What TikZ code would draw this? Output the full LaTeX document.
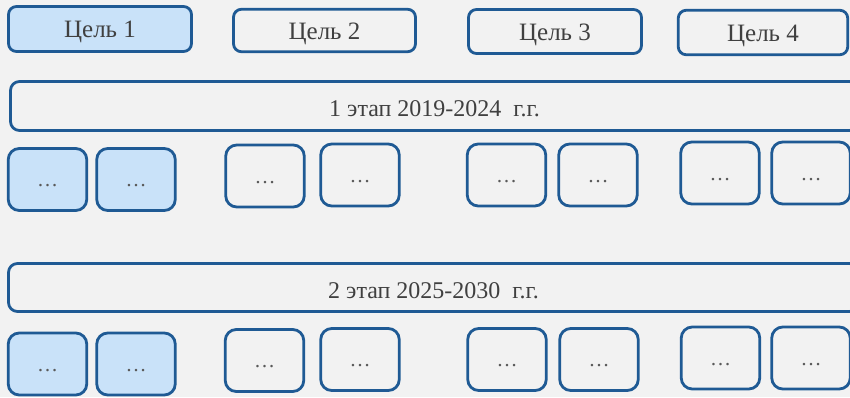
\documentclass[tikz,border=0pt]{standalone}
\usepackage{fontspec}
\setmainfont{Liberation Serif}
\usepackage{xcolor}

\definecolor{framecol}{HTML}{1F5A94}
\definecolor{paleblue}{HTML}{C9E2F9}
\definecolor{pagegray}{HTML}{F2F2F2}
\definecolor{textgray}{HTML}{404040}
\definecolor{dotgray}{HTML}{595959}

\tikzset{
	goalbox/.style={draw=framecol, line width=2.8pt, rounded corners=8pt, text=textgray, font=\fontsize{25}{25}\selectfont, text height=17pt, text depth=0pt},
	stagebar/.style={draw=framecol, line width=2.8pt, rounded corners=9pt, text=textgray, font=\fontsize{24}{24}\selectfont, text height=21pt, text depth=0pt, minimum width=848pt},
	taskbox/.style={draw=framecol, line width=2.8pt, rounded corners=11pt, text=dotgray, font=\fontsize{21}{21}\selectfont, text height=14pt, text depth=0pt, minimum width=78.5pt, minimum height=62pt}
}

\begin{document}
\begin{tikzpicture}[x=1pt, y=-1pt]
	\fill[pagegray] (0,0) rectangle (850,397);
	\useasboundingbox (0,0) rectangle (850,397);
	\clip (0,0) rectangle (850,397);

	\node[goalbox, fill=paleblue, minimum width=183pt, minimum height=45pt] (goal1) at (100,29) {Цель 1};
	\node[goalbox, minimum width=182pt, minimum height=42.5pt] (goal2) at (324.5,30.5) {Цель 2};
	\node[goalbox, minimum width=173pt, minimum height=44pt] (goal3) at (555,31.5) {Цель 3};
	\node[goalbox, minimum width=169.5pt, minimum height=44.5pt] (goal4) at (763,32.5) {Цель 4};

	\node[stagebar, minimum height=49pt] (stage1) at (434.5,106) {1 этап 2019-2024\ \ г.г.};
	\node[stagebar, minimum width=850pt, minimum height=48pt] (stage2) at (433.5,287.5) {2 этап 2025-2030\ \ г.г.};

	\node[taskbox, fill=paleblue] (task11) at (47.5,179.5) {\dots};
	\node[taskbox, fill=paleblue] (task12) at (136,179.5) {\dots};
	\node[taskbox] (task13) at (265,176) {\dots};
	\node[taskbox] (task14) at (360,175) {\dots};
	\node[taskbox] (task15) at (506.5,175) {\dots};
	\node[taskbox] (task16) at (598,175) {\dots};
	\node[taskbox] (task17) at (720,173) {\dots};
	\node[taskbox] (task18) at (811,173) {\dots};

	\node[taskbox, fill=paleblue] (task21) at (47.5,364) {\dots};
	\node[taskbox, fill=paleblue] (task22) at (136,364) {\dots};
	\node[taskbox] (task23) at (264.5,360.5) {\dots};
	\node[taskbox] (task24) at (360,359.5) {\dots};
	\node[taskbox] (task25) at (507,359.5) {\dots};
	\node[taskbox] (task26) at (599,359.5) {\dots};
	\node[taskbox] (task27) at (720.5,358) {\dots};
	\node[taskbox] (task28) at (811,358) {\dots};
\end{tikzpicture}
\end{document}
